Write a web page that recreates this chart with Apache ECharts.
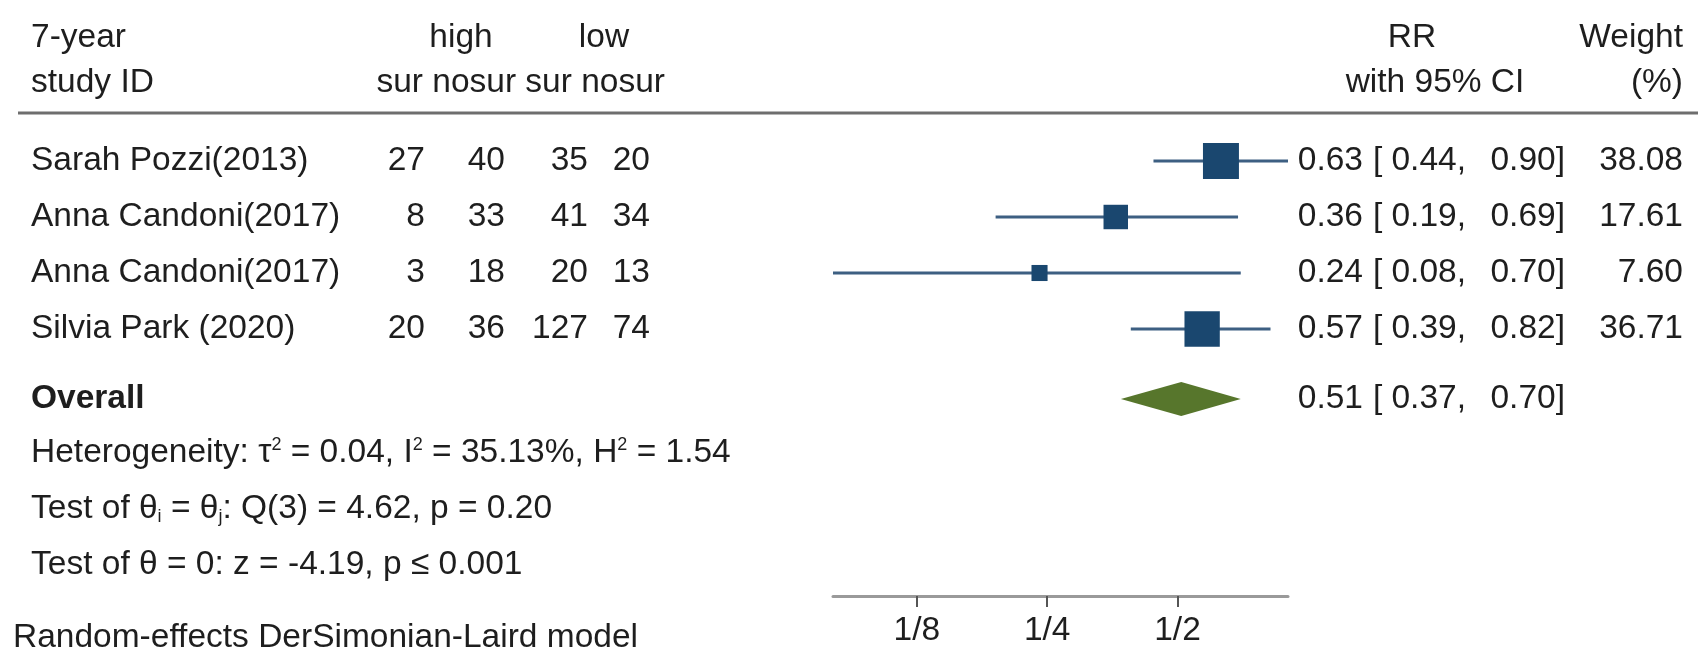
<!DOCTYPE html>
<html>
<head>
<meta charset="utf-8">
<script src="https://cdn.jsdelivr.net/npm/echarts@6/dist/echarts.min.js"></script>
<style>
html,body{margin:0;padding:0;background:#ffffff;}
#c{width:1698px;height:654px;}
</style>
</head>
<body>
<div id="c"></div>
<script>
// ---------------- data ----------------
const studies   = ['Sarah Pozzi(2013)', 'Anna Candoni(2017)', 'Anna Candoni(2017)', 'Silvia Park (2020)'];
const highSur   = [27, 8, 3, 20];
const highNosur = [40, 33, 18, 36];
const lowSur    = [35, 41, 20, 127];
const lowNosur  = [20, 34, 13, 74];
const rr        = [0.63, 0.36, 0.24, 0.57];
const ciLow     = [0.44, 0.19, 0.08, 0.39];
const ciHigh    = [0.90, 0.69, 0.70, 0.82];
const weight    = [38.08, 17.61, 7.60, 36.71];
const overallRR   = 0.51;
const overallLow  = 0.37;
const overallHigh = 0.70;
const tickValues = [0.125, 0.25, 0.5];
const tickLabels = ['1/8', '1/4', '1/2'];

// ---------------- layout / style ----------------
const FONT = "'Liberation Sans', Arial, Helvetica, sans-serif";
const FS = 33.5;
const FS_SMALL = 18;
const TXT = '#1e1e1e';
const NAVY = '#1a476f';
const CI_COLOR = '#3d5f82';
const GREEN = '#57762c';
const GRID_TOP = 105, GRID_BOTTOM = 58;
const ROW_PX = 56;
const YMAX = (654 - GRID_TOP - GRID_BOTTOM) / ROW_PX;
const ROW_OVERALL = 5.25;
const COL = { name: 31, hs: 425, hn: 505, ls: 588, ln: 650, est: 1363, br: 1373, lo: 1466, hi: 1565, w: 1683 };

const fmt = v => v.toFixed(2);

function txt(text, x, y, align, extra) {
  return {
    type: 'text',
    style: Object.assign({
      text: text, x: x, y: y, align: align, verticalAlign: 'middle',
      fontSize: FS, fontFamily: FONT, fill: TXT
    }, extra || {})
  };
}

function gtext(text, x, y, align, extra) {
  return {
    type: 'text', x: x, y: y,
    style: Object.assign({ text: text, align: align, verticalAlign: 'middle', fontSize: FS, fontFamily: FONT, fill: TXT }, extra || {})
  };
}

function rowRender(cellsFn) {
  return function (params, api) {
    const row = api.value(1);
    const y = api.coord([0, row])[1];
    const X = c => api.coord([c, row])[0];
    return { type: 'group', children: cellsFn(params.dataIndex).map(c => txt(c[0], X(c[1]), y, c[2], c[3])) };
  };
}

const chart = echarts.init(document.getElementById('c'), null, { renderer: 'canvas' });

const richN = { fontSize: FS, fontFamily: FONT, fill: TXT };

const option = {
  backgroundColor: '#ffffff',
  animation: false,
  grid: [
    { left: 0, right: 0, top: GRID_TOP, bottom: GRID_BOTTOM },
    { left: 833, width: 455, top: GRID_TOP, bottom: GRID_BOTTOM }
  ],
  xAxis: [
    { gridIndex: 0, type: 'value', min: 0, max: 1698, show: false },
    {
      gridIndex: 1, type: 'log', logBase: 2, min: 0.08, max: 0.9, position: 'bottom',
      axisLine: { show: true, onZero: false, lineStyle: { color: '#9a9a9a', width: 3 } },
      axisTick: { show: true, length: 11, lineStyle: { color: '#555', width: 2 } },
      axisLabel: {
        show: true, showMinLabel: false, showMaxLabel: false, margin: 18,
        fontSize: FS, fontFamily: FONT, color: TXT,
        formatter: function (v) {
          for (let k = 0; k < tickValues.length; k++) {
            if (Math.abs(v - tickValues[k]) < 1e-6) return tickLabels[k];
          }
          return '';
        }
      },
      splitLine: { show: false }, minorTick: { show: false }, minorSplitLine: { show: false }
    }
  ],
  yAxis: [
    { gridIndex: 0, type: 'value', inverse: true, min: 0, max: YMAX, show: false },
    { gridIndex: 1, type: 'value', inverse: true, min: 0, max: YMAX, show: false }
  ],
  graphic: [
    // header
    gtext('7-year', COL.name, 38, 'left'),
    gtext('study ID', COL.name, 83, 'left'),
    gtext('high', 461, 38, 'center'),
    gtext('low', 604, 38, 'center'),
    gtext('sur nosur sur nosur', 665, 83, 'right'),
    gtext('RR', 1412, 38, 'center'),
    gtext('with 95% CI', 1435, 83, 'center'),
    gtext('Weight', COL.w, 38, 'right'),
    gtext('(%)', COL.w, 83, 'right'),
    { type: 'line', shape: { x1: 18, y1: 113, x2: 1698, y2: 113 }, style: { stroke: '#6e6e6e', lineWidth: 3 } },
    // footnotes
    gtext('{n|Heterogeneity: τ}{s|2}{n| = 0.04, I}{s|2}{n| = 35.13%, H}{s|2}{n| = 1.54}', COL.name, 453, 'left', {
      rich: { n: richN, s: { fontSize: FS_SMALL, fontFamily: FONT, fill: TXT, verticalAlign: 'top' } } }),
    gtext('{n|Test of θ}{b|i}{n| = θ}{b|j}{n|: Q(3) = 4.62, p = 0.20}', COL.name, 509, 'left', {
      rich: { n: richN, b: { fontSize: FS_SMALL, fontFamily: FONT, fill: TXT, verticalAlign: 'bottom' } } }),
    gtext('Test of θ = 0: z = -4.19, p ≤ 0.001', COL.name, 565, 'left'),
    gtext('Random-effects DerSimonian-Laird model', 13, 638, 'left')
  ],
  series: [
    // study table text
    {
      type: 'custom', xAxisIndex: 0, yAxisIndex: 0, silent: true,
      data: studies.map((s, i) => [0, i + 1]),
      encode: { x: 0, y: 1 },
      renderItem: rowRender(i => [
        [studies[i], COL.name, 'left'],
        [String(highSur[i]), COL.hs, 'right'],
        [String(highNosur[i]), COL.hn, 'right'],
        [String(lowSur[i]), COL.ls, 'right'],
        [String(lowNosur[i]), COL.ln, 'right'],
        [fmt(rr[i]), COL.est, 'right'],
        ['[', COL.br, 'left'],
        [fmt(ciLow[i]) + ',', COL.lo, 'right'],
        [fmt(ciHigh[i]) + ']', COL.hi, 'right'],
        [weight[i].toFixed(2), COL.w, 'right']
      ])
    },
    // overall table text
    {
      type: 'custom', xAxisIndex: 0, yAxisIndex: 0, silent: true,
      data: [[0, ROW_OVERALL]],
      encode: { x: 0, y: 1 },
      renderItem: rowRender(() => [
        ['Overall', COL.name, 'left', { fontWeight: 'bold' }],
        [fmt(overallRR), COL.est, 'right'],
        ['[', COL.br, 'left'],
        [fmt(overallLow) + ',', COL.lo, 'right'],
        [fmt(overallHigh) + ']', COL.hi, 'right']
      ])
    },
    // study CIs and squares
    {
      type: 'custom', xAxisIndex: 1, yAxisIndex: 1, silent: true,
      data: rr.map((v, i) => [ciLow[i], v, ciHigh[i], i + 1, weight[i]]),
      encode: { x: [0, 1, 2], y: 3 },
      renderItem: function (params, api) {
        const row = api.value(3);
        const a = api.coord([api.value(0), row]);
        const b = api.coord([api.value(2), row]);
        const c = api.coord([api.value(1), row]);
        const s = 5.83 * Math.sqrt(api.value(4));
        return { type: 'group', children: [
          { type: 'line', shape: { x1: a[0], y1: a[1], x2: b[0], y2: b[1] }, style: { stroke: CI_COLOR, lineWidth: 3 } },
          { type: 'rect', shape: { x: c[0] - s / 2, y: c[1] - s / 2, width: s, height: s }, style: { fill: NAVY } }
        ] };
      }
    },
    // overall diamond
    {
      type: 'custom', xAxisIndex: 1, yAxisIndex: 1, silent: true,
      data: [[overallLow, overallRR, overallHigh, ROW_OVERALL]],
      encode: { x: [0, 1, 2], y: 3 },
      renderItem: function (params, api) {
        const row = api.value(3);
        const l = api.coord([api.value(0), row]);
        const c = api.coord([api.value(1), row]);
        const r = api.coord([api.value(2), row]);
        const h = 17;
        return { type: 'polygon', shape: { points: [[l[0], l[1]], [c[0], c[1] - h], [r[0], r[1]], [c[0], c[1] + h]] }, style: { fill: GREEN } };
      }
    }
  ]
};
chart.setOption(option);
</script>
</body>
</html>
